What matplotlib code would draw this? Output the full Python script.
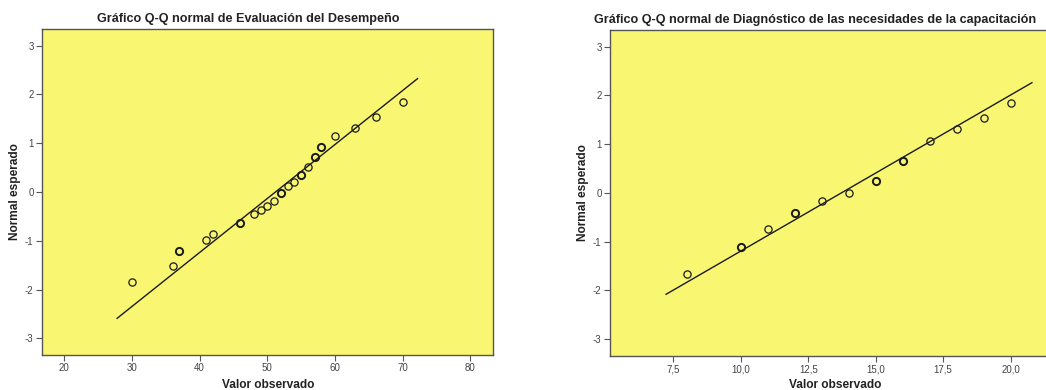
import numpy as np
import matplotlib.pyplot as plt

# Evaluación del Desempeño
obs_1 = [30, 36, 37, 41, 42, 46, 48, 49, 50, 51, 52, 53, 54, 55, 56, 57, 58, 60, 63, 66, 70]
exp_1 = [-1.84, -1.51, -1.20, -0.98, -0.86, -0.64, -0.45, -0.36, -0.28, -0.19, -0.03,
         0.13, 0.21, 0.34, 0.52, 0.71, 0.93, 1.14, 1.31, 1.53, 1.85]
ties_1 = [1, 1, 2, 1, 1, 2, 1, 1, 1, 1, 2, 1, 1, 2, 1, 2, 2, 1, 1, 1, 1]
mean_1, sd_1 = 51.2, 9.04
line_x1 = [27.8, 72.2]

# Diagnóstico de las necesidades de la capacitación
obs_2 = [8, 10, 11, 12, 13, 14, 15, 16, 17, 18, 19, 20]
exp_2 = [-1.66, -1.12, -0.75, -0.41, -0.16, 0.0, 0.25, 0.65, 1.07, 1.30, 1.53, 1.85]
ties_2 = [1, 2, 1, 2, 1, 1, 2, 2, 1, 1, 1, 1]
mean_2, sd_2 = 13.73, 3.125
line_x2 = [7.23, 20.79]

plt.rcParams['font.family'] = ['Liberation Sans', 'DejaVu Sans']
plt.rcParams['axes.unicode_minus'] = False

W, H = 1046, 390
fig = plt.figure(figsize=(W / 100, H / 100), dpi=100)

bg = '#f9f672'
spine = '#555555'


def qq_panel(rect, obs, exp, ties, mean, sd, line_x, xlim, xticks, xfmt):
    ax = fig.add_axes(rect)
    ax.set_facecolor(bg)
    lx = np.array(line_x)
    ax.plot(lx, (lx - mean) / sd, color='#1a1a1a', lw=1.0, zorder=2)
    for x, y, t in zip(obs, exp, ties):
        ax.plot(x, y, 'o', ms=5.2, mfc='none', mec='#1a1a1a',
                mew=0.9 if t == 1 else 1.4, zorder=3)
    ax.set_xlim(*xlim)
    ax.set_ylim(-3.34, 3.34)
    ax.set_xticks(xticks)
    ax.set_xticklabels([xfmt(v) for v in xticks])
    ax.set_yticks([-3, -2, -1, 0, 1, 2, 3])
    ax.tick_params(labelsize=7, colors=spine, labelcolor='#444444',
                   length=4, width=0.8, pad=2)
    for s in ax.spines.values():
        s.set_color(spine)
        s.set_linewidth(1.0)
    return ax


def px(x0, y0, x1, y1):
    return [x0 / W, 1 - y1 / H, (x1 - x0) / W, (y1 - y0) / H]


qq_panel(px(42, 29, 493, 355), obs_1, exp_1, ties_1, mean_1, sd_1, line_x1,
         (16.7, 83.35), [20, 30, 40, 50, 60, 70, 80], lambda v: f'{v:d}')
qq_panel(px(610, 30, 1074, 355.7), obs_2, exp_2, ties_2, mean_2, sd_2, line_x2,
         (5.15, 22.35), [7.5, 10.0, 12.5, 15.0, 17.5, 20.0],
         lambda v: f'{v:.1f}'.replace('.', ','))

title_kw = dict(fontsize=9.1, fontweight='bold', color='#222222', ha='center', va='center')
label_kw = dict(fontsize=8.6, fontweight='bold', color='#222222', ha='center', va='center')

fig.text(248 / W, 1 - 19 / H, 'Gráfico Q-Q normal de Evaluación del Desempeño', **title_kw)
fig.text(815 / W, 1 - 20 / H,
         'Gráfico Q-Q normal de Diagnóstico de las necesidades de la capacitación', **title_kw)

fig.text(268 / W, 1 - 385 / H, 'Valor observado', **label_kw)
fig.text(835 / W, 1 - 385 / H, 'Valor observado', **label_kw)
fig.text(15 / W, 1 - 192 / H, 'Normal esperado', rotation=90, **label_kw)
fig.text(583 / W, 1 - 193 / H, 'Normal esperado', rotation=90, **label_kw)

fig.savefig('out.png', dpi=100, facecolor='white')
